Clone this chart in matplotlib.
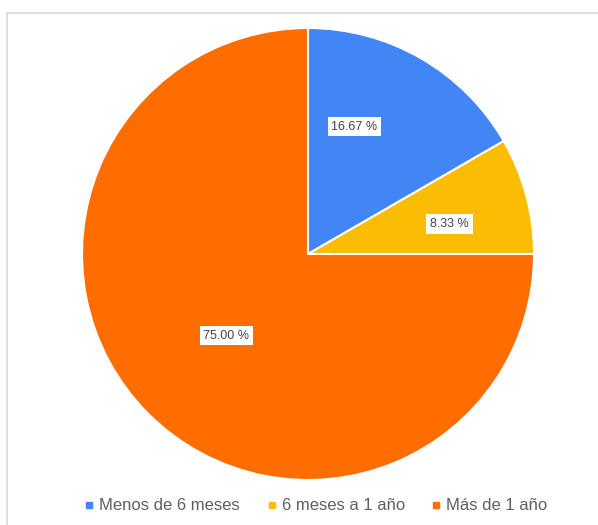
import numpy as np
from matplotlib import pyplot as plt
from matplotlib.patches import Rectangle

plt.rcParams['font.family'] = ['Liberation Sans', 'DejaVu Sans']

categories = ["Menos de 6 meses", "6 meses a 1 año", "Más de 1 año"]
values = [16.67, 8.33, 75.00]
colors = ["#4285F4", "#FBBC04", "#FF6D01"]
# radial distance and angular nudge (deg) of each percentage box
label_dist = [0.60, 0.64, 0.51]
label_turn = [10, -3, 0]

W, H = 598, 525
fig = plt.figure(figsize=(W / 100, H / 100), dpi=100)

# light frame around the chart area (only top and left show)
fig.patches.append(Rectangle((7 / W, -0.1), 1.2, (H - 13) / H + 0.1,
                             transform=fig.transFigure, fill=False,
                             edgecolor="#d9d9d9", linewidth=1.2))

cx, cy, r = 308, H - 254, 226
ax = fig.add_axes([(cx - r) / W, (cy - r) / H, 2 * r / W, 2 * r / H])
wedges, _ = ax.pie(values, colors=colors, startangle=90, counterclock=False,
                   wedgeprops=dict(edgecolor="white", linewidth=1.5))
ax.set_xlim(-1, 1)
ax.set_ylim(-1, 1)
ax.set_aspect("equal")

# percentage boxes inside each wedge
for w, v, d, t in zip(wedges, values, label_dist, label_turn):
    ang = np.deg2rad((w.theta1 + w.theta2) / 2 + t)
    ax.text(d * np.cos(ang), d * np.sin(ang), f"{v:.2f} %",
            ha="center", va="center", fontsize=9, color="#444444",
            bbox=dict(boxstyle="square,pad=0.3", facecolor="white",
                      edgecolor="none"))

handles = [plt.Line2D([], [], marker="s", linestyle="none", markersize=5,
                      markerfacecolor=c, markeredgecolor=c) for c in colors]
fig.legend(handles, categories, loc="center", bbox_to_anchor=(316 / W, 1 - 506 / H),
           ncol=3, frameon=False, fontsize=12, labelcolor="#5f5f5f",
           handlelength=0.6, handletextpad=0.3, columnspacing=1.6)

fig.savefig("out.png", dpi=100, facecolor="white")
